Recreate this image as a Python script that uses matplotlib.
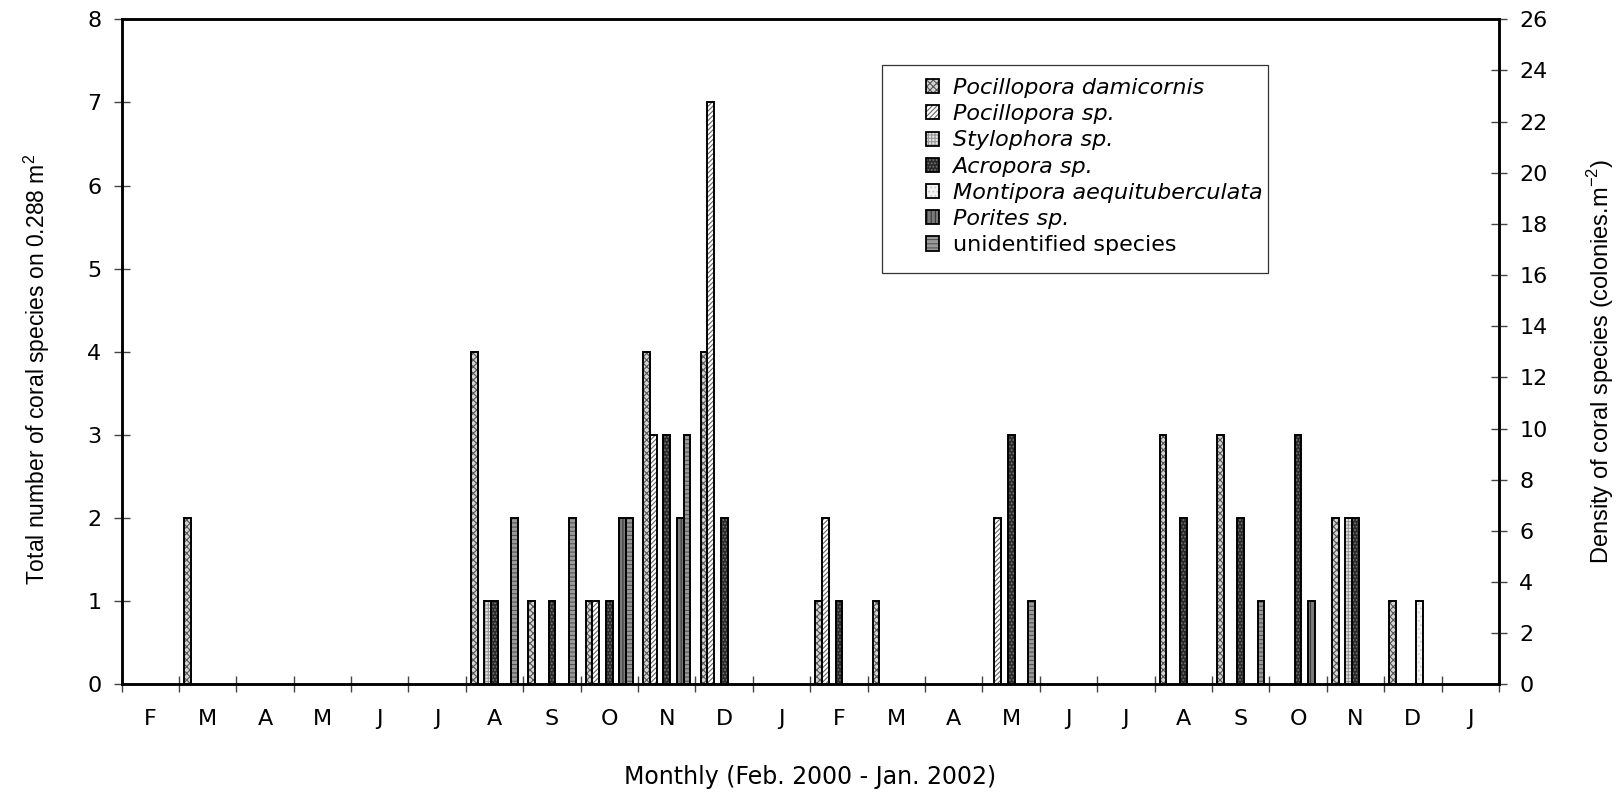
import numpy as np
import matplotlib
matplotlib.use('Agg')
import matplotlib.pyplot as plt
from matplotlib.patches import Patch, Rectangle

plt.rcParams['font.family'] = ['DejaVu Sans']
plt.rcParams['mathtext.fontset'] = 'custom'
plt.rcParams['mathtext.rm'] = 'Liberation Sans'
plt.rcParams['hatch.linewidth'] = 0.8

# monthly samples, Feb 2000 .. Jan 2002
months = ['F', 'M', 'A', 'M', 'J', 'J', 'A', 'S', 'O', 'N', 'D', 'J'] * 2

species = ['Pocillopora damicornis', 'Pocillopora sp.', 'Stylophora sp.',
           'Acropora sp.', 'Montipora aequituberculata', 'Porites sp.',
           'unidentified species']

damicornis   = [0, 2, 0, 0, 0, 0, 4, 1, 1, 4, 4, 0, 1, 1, 0, 0, 0, 0, 3, 3, 0, 2, 1, 0]
pocillopora  = [0, 0, 0, 0, 0, 0, 0, 0, 1, 3, 7, 0, 2, 0, 0, 2, 0, 0, 0, 0, 0, 0, 0, 0]
stylophora   = [0, 0, 0, 0, 0, 0, 1, 0, 0, 0, 0, 0, 0, 0, 0, 0, 0, 0, 0, 0, 0, 2, 0, 0]
acropora     = [0, 0, 0, 0, 0, 0, 1, 1, 1, 3, 2, 0, 1, 0, 0, 3, 0, 0, 2, 2, 3, 2, 0, 0]
montipora    = [0, 0, 0, 0, 0, 0, 0, 0, 0, 0, 0, 0, 0, 0, 0, 0, 0, 0, 0, 0, 0, 0, 1, 0]
porites      = [0, 0, 0, 0, 0, 0, 0, 0, 2, 2, 0, 0, 0, 0, 0, 0, 0, 0, 0, 0, 1, 0, 0, 0]
unidentified = [0, 0, 0, 0, 0, 0, 2, 2, 2, 3, 0, 0, 0, 0, 0, 1, 0, 0, 0, 1, 0, 0, 0, 0]

series = [damicornis, pocillopora, stylophora, acropora, montipora, porites, unidentified]

# (face colour, hatch, hatch colour) to mimic the grey-scale fill patterns
styles = [
    ('#d4d4d4', 'xxxxx', '#555555'),
    ('#ffffff', '///////', '#666666'),
    ('#e4e4e4', '+++++', '#999999'),
    ('#2a2a2a', '.....', '#777777'),
    ('#f4f4f4', '....', '#cccccc'),
    ('#7a7a7a', '||||', '#3a3a3a'),
    ('#9a9a9a', '----', '#555555'),
]

W, H = 1621, 797
fig = plt.figure(figsize=(W / 100, H / 100), dpi=100)
ax = fig.add_axes([121.5 / W, 1 - 684.3 / H, (1499 - 121.5) / W, (684.3 - 19.3) / H])
ax2 = ax.twinx()

n = len(series)
bw = 1 / (n + 1.5)
x = np.arange(len(months))
for k, vals in enumerate(series):
    vals = np.array(vals)
    m = vals > 0
    pos = x[m] + 0.5 + (k - (n - 1) / 2) * bw
    fc, hatch, hc = styles[k]
    ax.bar(pos, vals[m], bw, color=fc, edgecolor=hc, hatch=hatch, linewidth=0, zorder=2)
    ax.bar(pos, vals[m], bw, fill=False, edgecolor='black', linewidth=1.4, zorder=3)

ax.set_xlim(0, len(months))
ax.set_ylim(0, 8)
ax2.set_ylim(0, 26)
ax.set_yticks(range(0, 9))
ax2.set_yticks(range(0, 27, 2))

ax.set_xticks(np.arange(len(months) + 1))
ax.set_xticklabels([])
ax.set_xticks(x + 0.5, minor=True)
ax.set_xticklabels(months, minor=True)

ax.tick_params(axis='both', which='major', direction='inout', length=11, width=1,
               color='#444444', labelsize=16, pad=9)
ax.tick_params(axis='x', which='minor', length=0, labelsize=16, pad=18)
ax2.tick_params(axis='y', direction='inout', length=11, width=1, color='#444444',
                labelsize=16, pad=9)

for a in (ax, ax2):
    for s in a.spines.values():
        s.set_linewidth(1.8)

ax.set_xlabel('Monthly (Feb. 2000 - Jan. 2002)', fontsize=17, labelpad=26)
ax.set_ylabel('Total number of coral species on 0.288 m$^{2}$', fontsize=16.5,
              family='Liberation Sans', labelpad=25)
ax2.set_ylabel('Density of coral species (colonies.m$^{-2}$)', fontsize=17,
               family='Liberation Sans', labelpad=27)
ax.yaxis.label.set_y(0.474)
ax2.yaxis.label.set_y(0.486)

# legend
handles = []
for fc, hatch, hc in styles:
    handles.append((Patch(facecolor=fc, edgecolor=hc, hatch=hatch, linewidth=0),
                    Patch(fill=False, edgecolor='black', linewidth=1.3)))
leg = ax2.legend(handles, species, loc='upper left',
                 bbox_to_anchor=(926 / W, 1 - 78 / H), bbox_transform=fig.transFigure,
                 frameon=False, fontsize=16, borderpad=0, borderaxespad=0,
                 handlelength=0.6, handleheight=0.6, handletextpad=0.6,
                 labelspacing=0.28)
for t in leg.get_texts()[:-1]:
    t.set_style('italic')
fig.add_artist(Rectangle((882 / W, 1 - 273 / H), (1268 - 882) / W, (273 - 65) / H,
                         transform=fig.transFigure, fill=False, edgecolor='#333333',
                         linewidth=0.9))

fig.savefig('out.png', dpi=100)
plt.close(fig)
